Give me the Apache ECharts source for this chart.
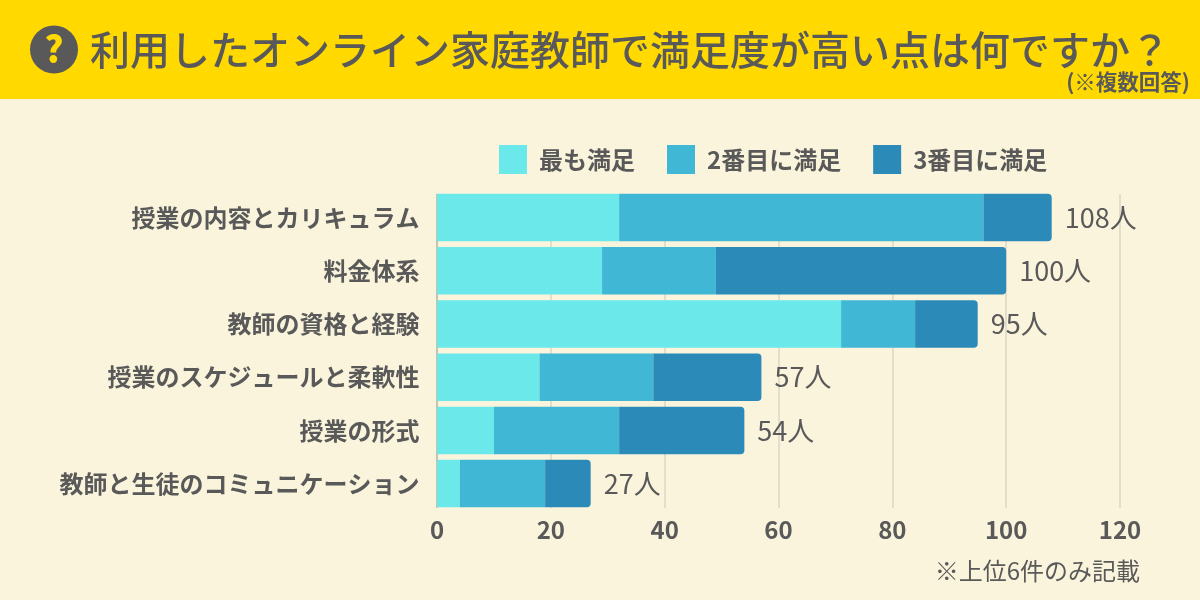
<!DOCTYPE html>
<html><head><meta charset="utf-8">
<style>html,body{margin:0;padding:0;background:#FBF4DC}#c{width:1200px;height:600px}</style>
<script src="https://cdn.jsdelivr.net/npm/echarts@6/dist/echarts.min.js"></script></head>
<body><div id="c"></div>
<script>
const categories=['授業の内容とカリキュラム','料金体系','教師の資格と経験','授業のスケジュールと柔軟性','授業の形式','教師と生徒のコミュニケーション'];
const seriesNames=['最も満足','2番目に満足','3番目に満足'];
const first=[32,29,71,18,10,4];
const second=[64,20,13,20,22,15];
const third=[12,51,11,19,22,8];
const totals=[108,100,95,57,54,27];
const titleText='利用したオンライン家庭教師で満足度が高い点は何ですか？';
const subText='(※複数回答)';
const noteText='※上位6件のみ記載';
const font='"Noto Sans CJK JP"';
const ink='#595959';
const bg='#FBF4DC';
const chart=echarts.init(document.getElementById('c'),null,{renderer:'canvas'});
chart.setOption({
  backgroundColor:bg,
  animation:false,
  textStyle:{fontFamily:font},
  color:['#6BE8EA','#40B7D5','#2C8AB8'],
  legend:{top:145,left:499,padding:0,itemWidth:28,itemHeight:29,itemGap:32,icon:'rect',
    textStyle:{fontFamily:font,fontSize:24,fontWeight:700,color:ink,padding:[0,0,0,7]},
    data:seriesNames},
  grid:{left:437,right:80,top:191,bottom:89.8,containLabel:false},
  xAxis:{type:'value',min:0,max:120,interval:20,
    axisLine:{show:false},axisTick:{show:false},
    splitLine:{show:true,lineStyle:{color:'#E2DECB',width:2}},
    axisLabel:{fontFamily:font,fontSize:24,fontWeight:700,color:ink,margin:8}},
  yAxis:{type:'category',inverse:true,data:categories,
    axisLine:{show:true,lineStyle:{color:'#C9C2AF',width:2}},axisTick:{show:false},
    axisLabel:{fontFamily:font,fontSize:24,fontWeight:700,color:ink,margin:17.5}},
  series:[
    {name:seriesNames[0],type:'bar',stack:'t',barWidth:47.5,data:first},
    {name:seriesNames[1],type:'bar',stack:'t',barWidth:47.5,data:second},
    {name:seriesNames[2],type:'bar',stack:'t',barWidth:47.5,data:third,
     itemStyle:{borderRadius:[0,4,4,0]},
     label:{show:true,position:'right',distance:13,padding:[2,0,0,0],fontFamily:font,fontSize:27,fontWeight:400,color:ink,
       formatter:p=>totals[p.dataIndex]+'人'}}
  ],
  graphic:[
    {type:'rect',z:-1,shape:{x:0,y:0,width:1200,height:99},style:{fill:'#FFD900'}},
    {type:'rect',z:1,silent:true,shape:{x:430,y:186,width:700,height:8},style:{fill:bg}},
    {type:'rect',z:1,silent:true,shape:{x:430,y:508,width:700,height:6},style:{fill:bg}},
    {type:'circle',shape:{cx:54,cy:49.5,r:24},style:{fill:ink}},
    {type:'text',x:54,y:49,style:{text:'?',fontFamily:font,fontSize:36,fontWeight:900,fill:'#FFD900',align:'center',verticalAlign:'middle'}},
    {type:'text',x:90,y:50,style:{text:titleText,fontFamily:font,fontSize:40,fontWeight:500,fill:ink,align:'left',verticalAlign:'middle'}},
    {type:'text',x:1190,y:82,style:{text:subText,fontFamily:font,fontSize:21.5,fontWeight:700,fill:ink,align:'right',verticalAlign:'middle'}},
    {type:'text',x:1140,y:571,style:{text:noteText,fontFamily:font,fontSize:24,fontWeight:400,fill:ink,align:'right',verticalAlign:'middle'}}
  ]
});
</script></body></html>
